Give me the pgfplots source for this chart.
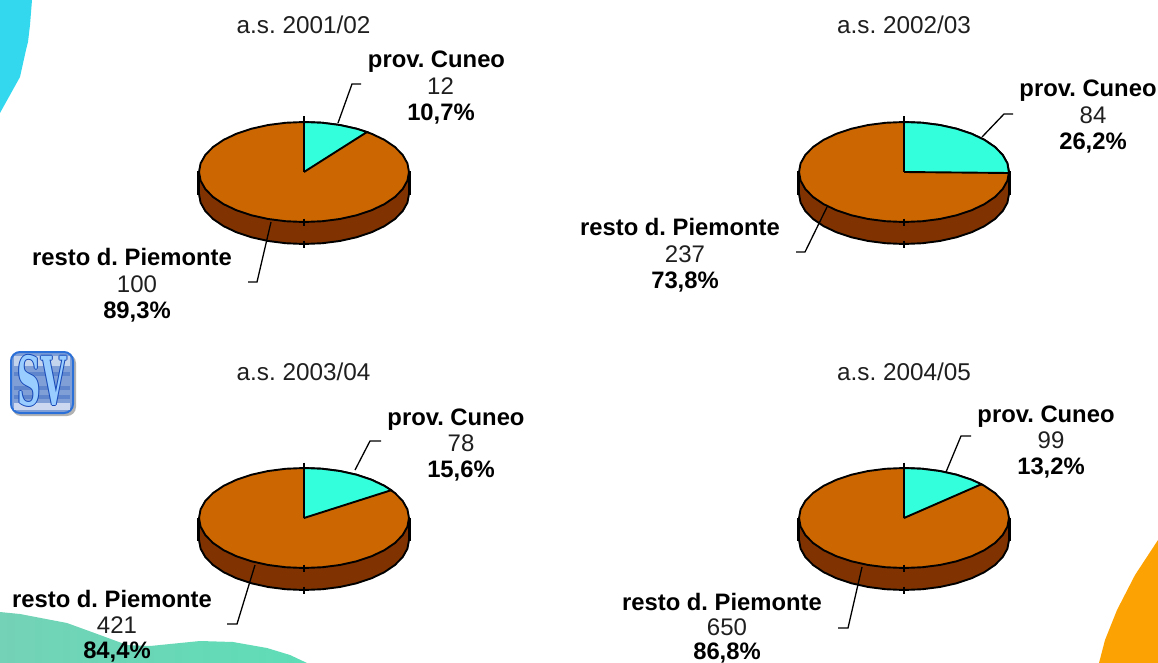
\documentclass[border=0pt]{standalone}
\usepackage{fontspec}
\setmainfont{Liberation Sans}
\newfontfamily\logofont{DejaVu Serif}
\usepackage{pgfplots}
\usepackage{pgfplotstable}
\pgfplotsset{compat=1.18}
\definecolor{slicecyan}{HTML}{33FFDD}
\definecolor{slicebrown}{HTML}{CC6600}
\definecolor{sidebrown}{HTML}{803300}
\definecolor{blobcyan}{HTML}{33D8EE}
\definecolor{blobor}{HTML}{FDA203}
\definecolor{tealL}{HTML}{74D2B6}
\definecolor{tealR}{HTML}{5EDDB6}
\definecolor{logoblue}{HTML}{2B70D8}
\definecolor{logomid}{HTML}{7F9FD6}
\definecolor{logotext}{HTML}{99CCFF}
\definecolor{logodark}{HTML}{1548B8}

\pgfplotstableread{
x y
0 -1
.1736 -.9848
.3420 -.9397
.5 -.8660
.6428 -.7660
.7660 -.6428
.8660 -.5
.9397 -.3420
.9848 -.1736
1 0
.9848 .1736
.9397 .3420
.8660 .5
.7660 .6428
.6428 .7660
.5 .8660
.3420 .9397
.1736 .9848
0 1
-.1736 .9848
-.3420 .9397
-.5 .8660
-.6428 .7660
-.7660 .6428
-.8660 .5
-.9397 .3420
-.9848 .1736
-1 0
-.9848 -.1736
-.9397 -.3420
-.8660 -.5
-.7660 -.6428
-.6428 -.7660
-.5 -.8660
-.3420 -.9397
-.1736 -.9848
0 -1
}\ellipsetab

\pgfplotstableread{
x y
1 0
1 .44
.9848 .6136
.9397 .7820
.8660 .94
.7660 1.0828
.6428 1.206
.5 1.306
.3420 1.3797
.1736 1.4248
0 1.44
-.1736 1.4248
-.3420 1.3797
-.5 1.306
-.6428 1.206
-.7660 1.0828
-.8660 .94
-.9397 .7820
-.9848 .6136
-1 .44
-1 0
1 0
}\bandtab

\pgfplotstableread{
x y
0 0
0 -1
.1736 -.9848
.3420 -.9397
.5 -.8660
.6000 -.8000
0 0
}\wedgeA

\pgfplotstableread{
x y
0 0
0 -1
.1736 -.9848
.3420 -.9397
.5 -.8660
.6428 -.7660
.7660 -.6428
.8660 -.5
.9397 -.3420
.9848 -.1736
1 .02
0 0
}\wedgeB

\pgfplotstableread{
x y
0 0
0 -1
.1736 -.9848
.3420 -.9397
.5 -.8660
.6428 -.7660
.7660 -.6428
.8310 -.5563
0 0
}\wedgeC

\pgfplotstableread{
x y
0 0
0 -1
.1736 -.9848
.3420 -.9397
.5 -.8660
.6428 -.7660
.7373 -.6756
0 0
}\wedgeD

\pgfplotstableread{
x y
-1.01 .22
1.01 .22
}\sideticks

\pgfplotstableread{
x y
0 -1.04
0 1
0 1.44
}\midticks

\newcommand{\pie}[3]{%
  \addplot[fill=sidebrown,draw=black,line width=1.9pt,line join=round] table[x expr=\thisrow{x}*105+#1,y expr=\thisrow{y}*50+#2]{\bandtab};
  \addplot[fill=slicebrown,draw=black,line width=1.9pt,line join=round] table[x expr=\thisrow{x}*105+#1,y expr=\thisrow{y}*50+#2]{\ellipsetab};
  \addplot[fill=slicecyan,draw=black,line width=1.9pt,line join=miter] table[x expr=\thisrow{x}*105+#1,y expr=\thisrow{y}*50+#2]{#3};
  \addplot[only marks,mark=|,mark size=11.5pt,mark options={black,line width=2pt}] table[x expr=\thisrow{x}*105+#1,y expr=\thisrow{y}*50+#2]{\sideticks};
  \addplot[only marks,mark=|,mark size=3.5pt,mark options={black,line width=1.1pt}] table[x expr=\thisrow{x}*105+#1,y expr=\thisrow{y}*50+#2]{\midticks};
}
\newcommand{\TT}[3]{\node[anchor=base,inner sep=0pt,text=black!88] at (axis cs:#1,#2) {\frenchspacing\fontsize{24.3}{26}\selectfont #3};}
\newcommand{\T}[3]{\node[anchor=base,inner sep=0pt,text=black!88] at (axis cs:#1,#2) {\frenchspacing\fontsize{24}{26}\selectfont #3};}
\newcommand{\B}[3]{\node[anchor=base,inner sep=0pt,text=black] at (axis cs:#1,#2) {\frenchspacing\fontsize{23.8}{26}\selectfont\bfseries #3};}
\newcommand{\SVt}{\logofont\bfseries\scalebox{.62}[1.3]{\fontsize{52}{52}\selectfont SV}}

\begin{document}
\begin{tikzpicture}[x=1pt,y=1pt]
\path[use as bounding box,clip] (0,0) rectangle (1158,663);
\begin{axis}[at={(0pt,0pt)},anchor=south west,width=1158pt,height=663pt,scale only axis,hide axis,
  xmin=0,xmax=1158,ymin=0,ymax=663,y dir=reverse,clip=false]

% background decorations
\addplot[fill=blobcyan,draw=none] coordinates {(0,0) (32,0) (30,25) (28,42) (26,50) (20,77) (0,113)};
\addplot[left color=tealL,right color=tealR,draw=none] coordinates {(0,612) (20,614) (67,623) (100,635) (127,645) (150,646) (200,641) (233,642) (267,648) (290,655) (307,663) (0,663)};
\addplot[fill=blobor,draw=none] coordinates {(1158,540) (1135,575) (1117,610) (1105,640) (1099,663) (1158,663)};

% logo
\fill[black!30,rounded corners=9pt] (axis cs:12,354) rectangle (axis cs:76,416);
\fill[logomid,draw=logoblue,line width=2pt,rounded corners=9pt] (axis cs:11,352) rectangle (axis cs:73,413);
\fill[white!55!logomid] (axis cs:14,356) rectangle (axis cs:70,366);
\fill[white!60!logomid] (axis cs:14,403) rectangle (axis cs:70,410);
\fill[logodark!30!logomid] (axis cs:14,372) rectangle (axis cs:70,376);
\fill[logodark!30!logomid] (axis cs:14,386) rectangle (axis cs:70,390);
\fill[logodark!30!logomid] (axis cs:14,395) rectangle (axis cs:70,399);
\node[inner sep=0pt,text=logodark] at (axis cs:41,381) {\SVt};
\node[inner sep=0pt,text=logodark] at (axis cs:43,381) {\SVt};
\node[inner sep=0pt,text=logodark] at (axis cs:42,380) {\SVt};
\node[inner sep=0pt,text=logodark] at (axis cs:42,382) {\SVt};
\node[inner sep=0pt,text=logotext] at (axis cs:42,381) {\SVt};

% pies
\pie{304}{172}{\wedgeA}
\pie{904}{172}{\wedgeB}
\pie{304}{518}{\wedgeC}
\pie{904}{518}{\wedgeD}

% leaders
\addplot[black,line width=1.3pt] coordinates {(338,123) (352,84) (361,84)};
\addplot[black,line width=1.3pt] coordinates {(271,222) (257,282) (248,282)};
\addplot[black,line width=1.3pt] coordinates {(982,137) (1004,114) (1013,114)};
\addplot[black,line width=1.3pt] coordinates {(827,207) (805,252) (796,252)};
\addplot[black,line width=1.3pt] coordinates {(355,470) (370,441) (381,441)};
\addplot[black,line width=1.3pt] coordinates {(255,565) (237,624) (227,624)};
\addplot[black,line width=1.3pt] coordinates {(946,472) (961,436) (971,436)};
\addplot[black,line width=1.3pt] coordinates {(862,567) (848,628) (838,628)};

% titles
\TT{303.5}{34}{a.s. 2001/02}
\TT{904}{34}{a.s. 2002/03}
\TT{303.5}{380}{a.s. 2003/04}
\TT{904}{380}{a.s. 2004/05}

% labels
\B{436.5}{68}{prov. Cuneo}
\T{440.5}{95}{12}
\B{441}{121}{10,7\%}
\B{132}{265}{resto d. Piemonte}
\T{137}{292}{100}
\B{137}{318}{89,3\%}

\B{1088}{97}{prov. Cuneo}
\T{1093}{124}{84}
\B{1093}{150}{26,2\%}
\B{680}{235}{resto d. Piemonte}
\T{685}{262}{237}
\B{685}{288}{73,8\%}

\B{456}{425}{prov. Cuneo}
\T{461}{451}{78}
\B{461}{477}{15,6\%}
\B{112}{607}{resto d. Piemonte}
\T{117}{633}{421}
\B{117}{658}{84,4\%}

\B{1046}{422}{prov. Cuneo}
\T{1051}{448}{99}
\B{1051}{474}{13,2\%}
\B{722}{610}{resto d. Piemonte}
\T{727}{635}{650}
\B{727}{659.5}{86,8\%}
\end{axis}
\end{tikzpicture}
\end{document}
